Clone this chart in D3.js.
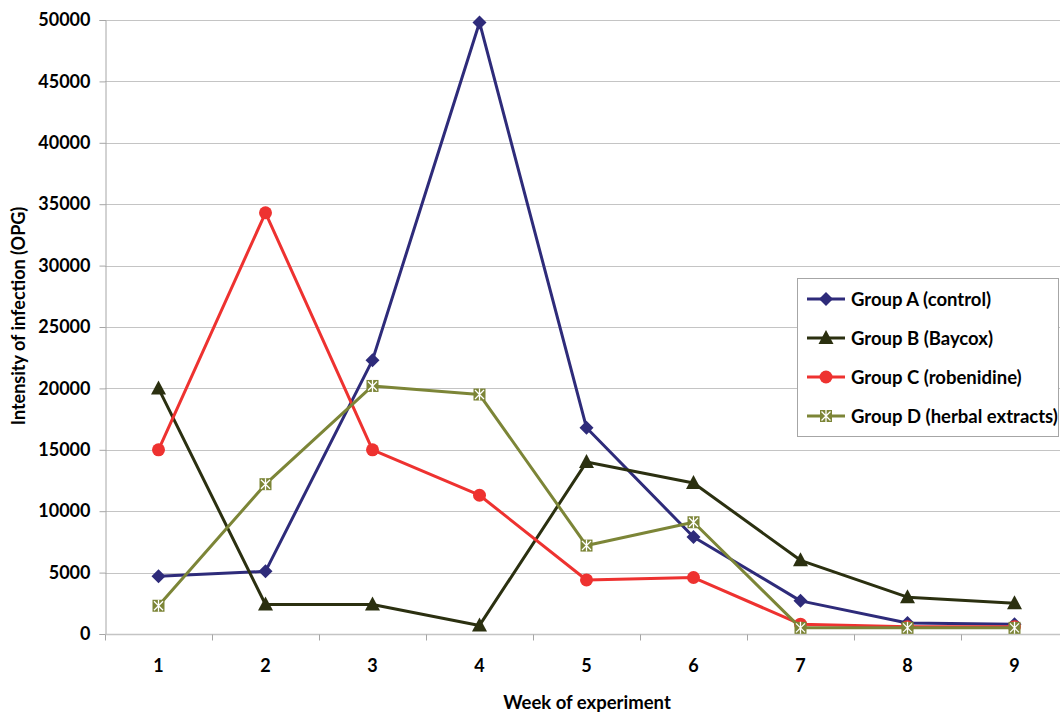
<!DOCTYPE html>
<html>
<head>
<meta charset="utf-8">
<script src="https://cdn.jsdelivr.net/npm/d3@7"></script>
<style>
  html, body { margin: 0; padding: 0; background: #fff; }
  svg { display: block; font-family: Lato, "Open Sans", sans-serif; font-weight: bold; }
</style>
</head>
<body>
<svg id="chart" width="1060" height="715"></svg>
<script>
const weeks = [1, 2, 3, 4, 5, 6, 7, 8, 9];
const yTicks = [0, 5000, 10000, 15000, 20000, 25000, 30000, 35000, 40000, 45000, 50000];

const groupA = [4700, 5100, 22300, 49800, 16800, 7900, 2700, 900, 800];
const groupB = [20000, 2400, 2400, 700, 14000, 12300, 6000, 3000, 2500];
const groupC = [15000, 34300, 15000, 11300, 4400, 4600, 800, 600, 600];
const groupD = [2300, 12200, 20200, 19500, 7200, 9100, 500, 500, 500];

const seriesNames = ["Group A (control)", "Group B (Baycox)", "Group C (robenidine)", "Group D (herbal extracts)"];
const seriesColors = ["#2e2b7a", "#2b3010", "#ee3230", "#7c8537"];
const seriesMarkers = ["diamond", "triangle", "circle", "star"];

const series = [groupA, groupB, groupC, groupD].map((values, i) => ({
    name: seriesNames[i],
    color: seriesColors[i],
    marker: seriesMarkers[i],
    values: values
}));

const svg = d3.select("#chart");

const x = d3.scaleBand().domain(weeks).range([105, 1068]).padding(0);
const y = d3.scaleLinear().domain([0, 50000]).range([634, 20]);
const cx = w => x(w) + x.bandwidth() / 2;

// gridlines
svg.append("g")
    .selectAll("line")
    .data(yTicks.filter(t => t > 0))
    .join("line")
    .attr("x1", 105)
    .attr("x2", 1060)
    .attr("y1", d => Math.round(y(d)) + 0.5)
    .attr("y2", d => Math.round(y(d)) + 0.5)
    .attr("stroke", "#c4c4c4")
    .attr("stroke-width", 1.2);

// y axis
const yAxis = svg.append("g")
    .attr("transform", "translate(105.5,0)")
    .call(d3.axisLeft(y).tickValues(yTicks).tickSize(6).tickPadding(9).tickFormat(d3.format("d")));
yAxis.select(".domain").attr("stroke", "#a6a6a6");
yAxis.selectAll(".tick line").attr("stroke", "#a6a6a6");
yAxis.selectAll(".tick text")
    .attr("font-size", 18)
    .attr("font-family", "Lato, 'Open Sans', sans-serif")
    .attr("font-weight", "bold")
    .attr("fill", "#000");

// x axis baseline, boundary ticks and labels
const xAxis = svg.append("g").attr("transform", "translate(0,634.5)");
xAxis.append("line")
    .attr("x1", 105).attr("x2", 1060)
    .attr("stroke", "#c4c4c4").attr("stroke-width", 1.5);
xAxis.selectAll(".bound")
    .data(weeks.map(w => x(w)).concat([x(9) + x.bandwidth()]))
    .join("line")
    .attr("class", "bound")
    .attr("x1", d => Math.round(d) + 0.5)
    .attr("x2", d => Math.round(d) + 0.5)
    .attr("y1", 0).attr("y2", 6)
    .attr("stroke", "#a6a6a6");
xAxis.selectAll(".lbl")
    .data(weeks)
    .join("text")
    .attr("class", "lbl")
    .attr("x", d => cx(d))
    .attr("y", 37)
    .attr("text-anchor", "middle")
    .attr("font-size", 18)
    .text(d => d);

// axis titles
svg.append("text")
    .attr("x", 587).attr("y", 709)
    .attr("text-anchor", "middle")
    .attr("font-size", 18.5)
    .text("Week of experiment");
svg.append("text")
    .attr("transform", "translate(25,316) rotate(-90)")
    .attr("text-anchor", "middle")
    .attr("font-size", 18)
    .text("Intensity of infection (OPG)");

function drawMarker(g, type, color) {
    if (type === "diamond") {
        g.append("path").attr("d", "M0,-7L7,0L0,7L-7,0Z").attr("fill", color);
    } else if (type === "triangle") {
        g.append("path").attr("d", "M0,-8L7.5,6L-7.5,6Z").attr("fill", color);
    } else if (type === "circle") {
        g.append("circle").attr("r", 6.5).attr("fill", color);
    } else {
        g.append("rect").attr("x", -6).attr("y", -6).attr("width", 12).attr("height", 12).attr("fill", color);
        g.append("path")
            .attr("d", "M-4.5,-4.5L4.5,4.5M4.5,-4.5L-4.5,4.5M0,-6L0,6")
            .attr("stroke", "#fff").attr("stroke-width", 1.3).attr("fill", "none");
    }
}

const line = d3.line().x((d, i) => cx(weeks[i])).y(d => y(d));

series.forEach(s => {
    const g = svg.append("g");
    g.append("path")
        .attr("d", line(s.values))
        .attr("fill", "none")
        .attr("stroke", s.color)
        .attr("stroke-width", 3)
        .attr("stroke-linejoin", "round");
    s.values.forEach((v, i) => {
        drawMarker(g.append("g").attr("transform", `translate(${cx(weeks[i])},${y(v)})`), s.marker, s.color);
    });
});

// legend
const legend = svg.append("g");
legend.append("rect")
    .attr("x", 797.5).attr("y", 278.5)
    .attr("width", 261).attr("height", 158)
    .attr("fill", "#fff").attr("stroke", "#a6a6a6");
series.forEach((s, i) => {
    const ly = 299 + i * 39;
    const row = legend.append("g");
    row.append("line")
        .attr("x1", 807).attr("x2", 845)
        .attr("y1", ly).attr("y2", ly)
        .attr("stroke", s.color).attr("stroke-width", 3);
    drawMarker(row.append("g").attr("transform", `translate(826,${ly})`), s.marker, s.color);
    row.append("text")
        .attr("x", 851).attr("y", ly + 6.5)
        .attr("font-size", 18.5)
        .text(s.name);
});
</script>
</body>
</html>
